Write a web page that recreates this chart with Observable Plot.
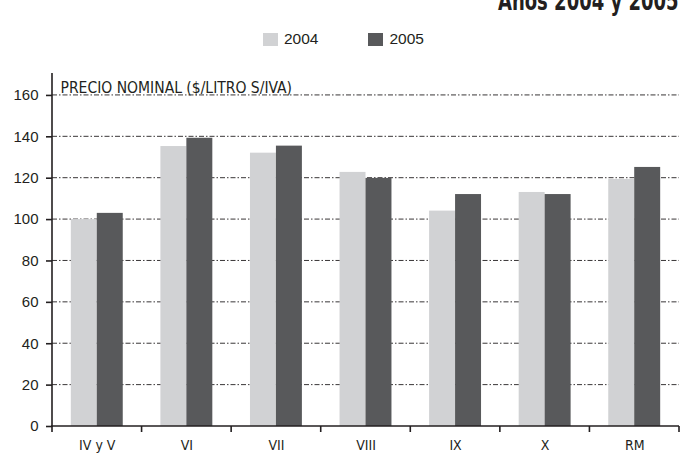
<!DOCTYPE html>
<html>
<head>
<meta charset="utf-8">
<script src="https://cdn.jsdelivr.net/npm/d3@7"></script>
<script src="https://cdn.jsdelivr.net/npm/@observablehq/plot@0.6"></script>
<style>
  html, body { margin: 0; padding: 0; background: #fff; }
  #wrap { position: relative; width: 685px; height: 459px; overflow: hidden; font-family: "Liberation Sans", Arial, sans-serif; }
  #title { position: absolute; right: 6px; top: -12px; font: bold 26px "DejaVu Sans Condensed", sans-serif; line-height: 26px; color: #231f20; white-space: nowrap; transform: scaleX(0.77); transform-origin: right top; }
  #legend { position: absolute; top: 30px; left: 263px; display: flex; align-items: center; font-size: 15.5px; color: #231f20; }
  #legend .item { display: flex; align-items: center; }
  #legend .sw { width: 15px; height: 13px; margin-right: 6px; }
  #chart { position: absolute; top: 60px; left: 0; }
</style>
</head>
<body>
<div id="wrap">
  <div id="title"></div>
  <div id="legend"></div>
  <div id="chart"></div>
</div>
<script>
const titleText = "Años 2004 y 2005";
const yLabel = "PRECIO NOMINAL ($/LITRO S/IVA)";
const regions = ["IV y V", "VI", "VII", "VIII", "IX", "X", "RM"];
const years = ["2004", "2005"];
const values2004 = [100, 135.3, 132.1, 122.8, 104.1, 113.1, 119.4];
const values2005 = [103, 139.3, 135.5, 119.9, 112.1, 112.1, 125.2];
const yTicks = [0, 20, 40, 60, 80, 100, 120, 140, 160];
const gridTicks = [20, 40, 60, 80, 100, 120, 140, 160];
const colors = ["#d1d2d4", "#58595b"];

const data = [];
regions.forEach((r, i) => {
  data.push({region: r, year: years[0], value: values2004[i]});
  data.push({region: r, year: years[1], value: values2005[i]});
});

document.getElementById("title").textContent = titleText;

const legend = document.getElementById("legend");
years.forEach((y, i) => {
  const item = document.createElement("div");
  item.className = "item";
  item.style.marginRight = i === 0 ? "50px" : "0";
  const sw = document.createElement("div");
  sw.className = "sw";
  sw.style.background = colors[i];
  const t = document.createElement("span");
  t.textContent = y;
  item.appendChild(sw);
  item.appendChild(t);
  legend.appendChild(item);
});

const narrow = '"DejaVu Sans Condensed", "Liberation Sans", sans-serif';
const ink = "#231f20";

function bandInfo(scales) {
  const fx = scales.fx;
  const bw = typeof fx.bandwidth === "function" ? fx.bandwidth() : fx.bandwidth;
  const edges = regions.map(r => fx(r)).concat([fx(regions[regions.length - 1]) + bw]);
  return {edges, left: edges[0], right: edges[edges.length - 1]};
}

// Grid lines drawn through the fx / y scales across the whole frame
function gridMark() {
  return Plot.frame({
    facet: "super",
    render: (index, scales, values, dims, context) => {
      const g = d3.create("svg:g");
      const y = scales.y;
      const {left, right} = bandInfo(scales);
      for (const t of gridTicks) {
        g.append("line").attr("x1", left).attr("x2", right)
          .attr("y1", y(t)).attr("y2", y(t))
          .attr("stroke", ink).attr("stroke-width", 0.9)
          .attr("stroke-dasharray", "5,2,1.5,2");
      }
      return g.node();
    }
  });
}
// Axis lines and category boundary ticks
function axisMark() {
  return Plot.frame({
    facet: "super",
    render: (index, scales, values, dims, context) => {
      const g = d3.create("svg:g");
      const y = scales.y;
      const y0 = y(0);
      const {edges, left, right} = bandInfo(scales);
      g.append("line").attr("x1", left).attr("x2", left)
        .attr("y1", dims.marginTop).attr("y2", y0 + 1)
        .attr("stroke", ink).attr("stroke-width", 1.6);
      g.append("line").attr("x1", left - 1).attr("x2", right)
        .attr("y1", y0).attr("y2", y0)
        .attr("stroke", ink).attr("stroke-width", 1.6);
      for (const e of edges) {
        g.append("line").attr("x1", e).attr("x2", e)
          .attr("y1", y0).attr("y2", y0 + 6)
          .attr("stroke", ink).attr("stroke-width", 1.6);
      }
      return g.node();
    }
  });
}

const chart = Plot.plot({
  width: 685,
  height: 399,
  marginLeft: 52,
  marginRight: 6,
  marginTop: 13,
  marginBottom: 33,
  style: {fontFamily: '"Liberation Sans", Arial, sans-serif', color: ink, background: "#fff"},
  fx: {domain: regions, padding: 0, round: false, label: null, axis: null},
  x: {domain: years, paddingInner: 0, paddingOuter: 0.725, round: false, axis: null},
  y: {domain: [0, 170.6], axis: null},
  color: {domain: years, range: colors},
  marks: [
    gridMark(),
    Plot.barY(data, {fx: "region", x: "year", y: "value", fill: "year", insetLeft: 0, insetRight: 0}),
    axisMark(),
    Plot.axisY(yTicks, {anchor: "left", tickSize: 6, tickPadding: 8, fontSize: 15, label: null, stroke: ink, strokeWidth: 1.6}),
    Plot.axisFx({anchor: "bottom", tickSize: 0, tickPadding: 14, fontSize: 14, fontFamily: narrow, label: null}),
    Plot.text([yLabel], {facet: "super", frameAnchor: "top-left", textAnchor: "start", lineAnchor: "top", dx: 8, dy: 8, fontSize: 15.5, fontFamily: narrow, fill: ink})
  ]
});
document.getElementById("chart").appendChild(chart);
</script>
</body>
</html>
